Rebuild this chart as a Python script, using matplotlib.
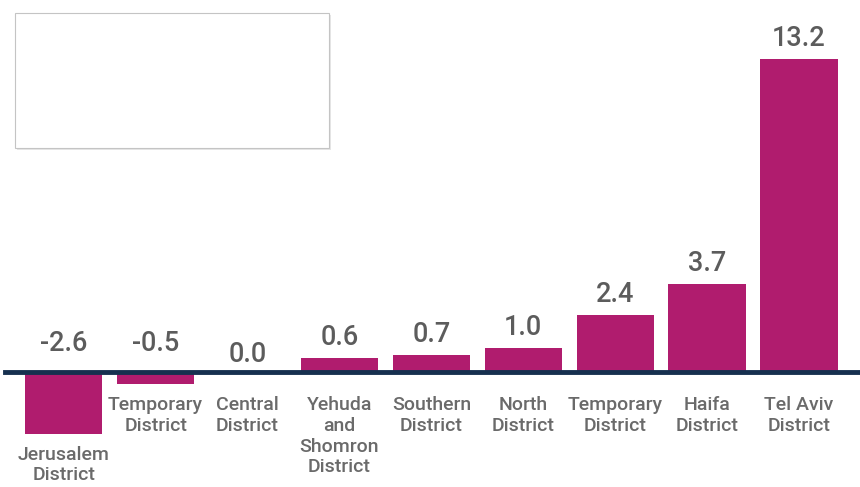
import numpy as np
import matplotlib.pyplot as plt
from matplotlib.patches import Rectangle

categories = ["Jerusalem\nDistrict", "Temporary\nDistrict", "Central\nDistrict",
              "Yehuda\nand\nShomron\nDistrict", "Southern\nDistrict", "North\nDistrict",
              "Temporary\nDistrict", "Haifa\nDistrict", "Tel Aviv\nDistrict"]
values = [-2.6, -0.5, 0.0, 0.6, 0.7, 1.0, 2.4, 3.7, 13.2]
value_labels = ["-2.6", "-0.5", "0.0", "0.6", "0.7", "1.0", "2.4", "3.7", "13.2"]

bar_color = "#b01c6e"
axis_color = "#16304f"
value_color = "#5c5c5c"
label_color = "#6a6a6a"

plt.rcParams['font.family'] = ['Roboto', 'DejaVu Sans']

fig = plt.figure(figsize=(8.6, 4.87), dpi=100)
ax = fig.add_axes([0, 0, 1, 1])
ax.set_xlim(-0.693, 8.664)
ax.set_ylim(-4.85, 15.70)
ax.axis('off')

x = np.arange(len(values))
ax.bar(x, values, width=0.84, color=bar_color, zorder=2)
ax.axhline(0, xmin=5 / 860, xmax=1, color=axis_color, lw=3.5, zorder=3)

for xi, v, lab, cat in zip(x, values, value_labels, categories):
    if v > 0:
        off, y = 7, v
    elif v == 0:
        off, y = 4, 0
    else:
        off, y = 15, 0
    ax.annotate(lab, (xi, y), xytext=(0, off), textcoords='offset pixels',
                ha='center', va='bottom', fontsize=19.5, color=value_color,
                fontweight='medium')
    ax.annotate(cat, (xi, min(v, -0.5)), xytext=(0, -12), textcoords='offset pixels',
                ha='center', va='top', fontsize=14, color=label_color,
                fontweight='medium', linespacing=1.2)

# empty box top left
fig.patches.append(Rectangle((17 / 860, 1 - 150 / 487), 314 / 860, 135 / 487,
                             transform=fig.transFigure, facecolor="#e6e6e6",
                             edgecolor="none", zorder=0))
fig.patches.append(Rectangle((15 / 860, 1 - 148 / 487), 314 / 860, 135 / 487,
                             transform=fig.transFigure, facecolor="white",
                             edgecolor="#c4c4c4", lw=0.8, zorder=1))

fig.savefig("out.png", dpi=100)
